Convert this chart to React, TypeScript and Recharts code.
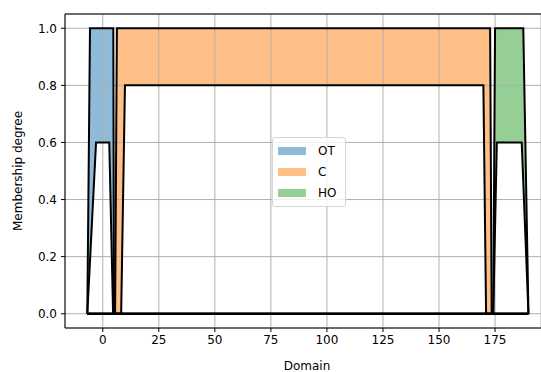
import React from "react";
import {
  ComposedChart, Area, Line, XAxis, YAxis, CartesianGrid, ReferenceLine, Legend, Label,
} from "recharts";

// fuzzy sets: upper / lower trapezoids [a, b, c, d] and their heights
const SET_NAMES = ["OT", "C", "HO"];
const SET_COLORS = ["#1f77b4", "#ff7f0e", "#2ca02c"];
const UPPER_X = [
  [-6.9, -5.7, 4.7, 5.0],
  [5.5, 6.3, 172.8, 173.5],
  [174.2, 175, 187.6, 189.9],
];
const UPPER_H = [1, 1, 1];
const LOWER_X = [
  [-6.9, -3.0, 2.9, 4.6],
  [8.2, 9.9, 169.8, 171],
  [174.2, 175.8, 186.9, 189.9],
];
const LOWER_H = [0.6, 0.8, 0.6];
const UNIVERSE = [-6.9, 189.9];

const X_TICKS = [0, 25, 50, 75, 100, 125, 150, 175];
const Y_TICKS = [0, 0.2, 0.4, 0.6, 0.8, 1.0];

const FONT = "'DejaVu Sans', sans-serif";
const tickStyle = { fontSize: 12, fill: "#000", fontFamily: FONT };

function trap(xs: number[], h: number) {
  return [
    { x: xs[0], y: 0 },
    { x: xs[1], y: h },
    { x: xs[2], y: h },
    { x: xs[3], y: 0 },
  ];
}

function withBase(pts: { x: number; y: number }[]) {
  return [{ x: UNIVERSE[0], y: 0 }, ...pts, { x: UNIVERSE[1], y: 0 }];
}

function FuzzyLegend() {
  return (
    <div
      style={{
        border: "1px solid #d6d6d6",
        borderRadius: 3,
        background: "rgba(255,255,255,0.8)",
        padding: "2px 6px 3px 5px",
        fontFamily: FONT,
        fontSize: 12,
        color: "#000",
        boxSizing: "border-box",
        width: 74,
      }}
    >
      {SET_NAMES.map((n, i) => (
        <div key={n} style={{ display: "flex", alignItems: "center", height: 21 }}>
          <div style={{ width: 28, height: 8, background: SET_COLORS[i], opacity: 0.5, marginRight: 12 }} />
          <span>{n}</span>
        </div>
      ))}
    </div>
  );
}

function YLabel(props: any) {
  const vb = props.viewBox || { x: 0, y: 14, width: 65, height: 314 };
  const x = 18;
  const y = vb.y + vb.height / 2;
  return (
    <text x={x} y={y} transform={`rotate(-90, ${x}, ${y})`} textAnchor="middle" dominantBaseline="central"
      style={{ fontSize: 12, fill: "#000", fontFamily: FONT }}>
      Membership degree
    </text>
  );
}

export default function App() {
  return (
    <div style={{ position: "absolute", left: 0, top: 0, width: 541, height: 372, background: "#fff" }}>
      <ComposedChart width={541} height={372} margin={{ top: 14, right: 0, left: 0, bottom: 0 }}>
        <XAxis
          type="number"
          dataKey="x"
          domain={[-16.85, 195.5]}
          allowDataOverflow
          ticks={X_TICKS}
          tick={tickStyle}
          tickSize={4}
          tickMargin={3}
          axisLine={{ stroke: "#000", strokeWidth: 1 }}
          tickLine={{ stroke: "#000" }}
          height={44}
        >
          <Label value="Domain" position="insideBottom" offset={2} dx={4}
            style={{ fontSize: 12, fill: "#000", fontFamily: FONT }} />
        </XAxis>
        <YAxis
          type="number"
          domain={[-0.05, 1.05]}
          allowDataOverflow
          ticks={Y_TICKS}
          tickFormatter={(v: number) => v.toFixed(1)}
          tick={tickStyle}
          tickSize={4}
          tickMargin={4}
          axisLine={{ stroke: "#000", strokeWidth: 1 }}
          tickLine={{ stroke: "#000" }}
          width={65}
          label={<YLabel />}
        />
        {UPPER_X.map((xs, i) => (
          <Area key={"u" + i} data={trap(xs, UPPER_H[i])} dataKey="y" type="linear"
            fill={SET_COLORS[i]} fillOpacity={0.5} stroke="none" isAnimationActive={false} />
        ))}
        {LOWER_X.map((xs, i) => (
          <Area key={"l" + i} data={trap(xs, LOWER_H[i])} dataKey="y" type="linear"
            fill="#fff" fillOpacity={1} stroke="none" isAnimationActive={false} />
        ))}
        <CartesianGrid stroke="#b0b0b0" strokeWidth={1} zIndex={150} />
        {UPPER_X.map((xs, i) => (
          <Line key={"ul" + i} data={withBase(trap(xs, UPPER_H[i]))} dataKey="y" type="linear"
            stroke="#000" strokeWidth={2} dot={false} isAnimationActive={false} />
        ))}
        {LOWER_X.map((xs, i) => (
          <Line key={"ll" + i} data={withBase(trap(xs, LOWER_H[i]))} dataKey="y" type="linear"
            stroke="#000" strokeWidth={2} dot={false} isAnimationActive={false} />
        ))}
        <ReferenceLine y={1.05} stroke="#000" strokeWidth={1} />
        <Legend
          layout="vertical"
          align="center"
          verticalAlign="middle"
          content={<FuzzyLegend />}
          wrapperStyle={{ position: "absolute", left: 272, top: 137, width: 74 }}
        />
      </ComposedChart>
    </div>
  );
}
